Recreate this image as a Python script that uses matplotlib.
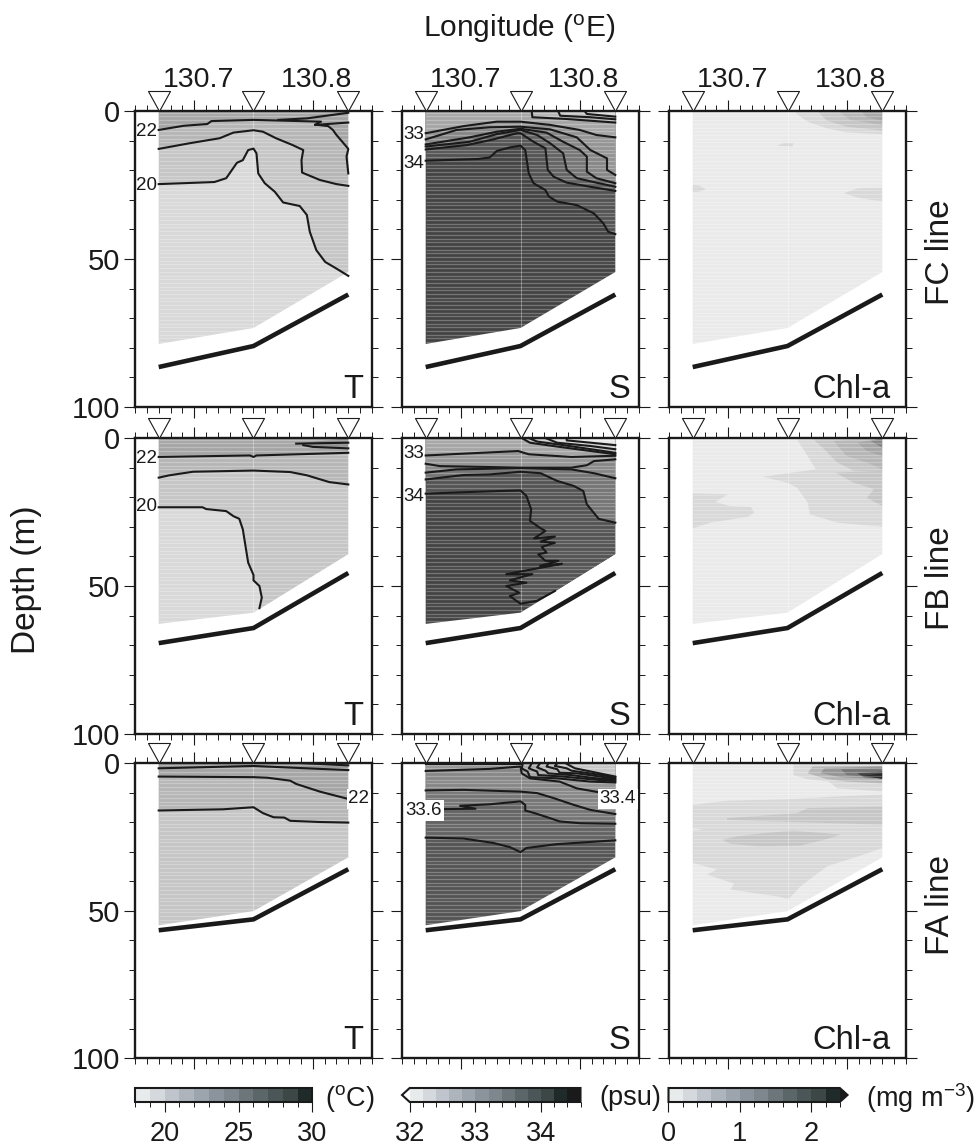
import numpy as np
import matplotlib
matplotlib.use("Agg")
import matplotlib.pyplot as plt
from matplotlib.colors import ListedColormap, BoundaryNorm
from matplotlib.colorbar import ColorbarBase
from matplotlib.patches import Polygon
from matplotlib.path import Path

plt.rcParams['font.family'] = ['Liberation Sans', 'DejaVu Sans']
plt.rcParams['mathtext.fontset'] = 'custom'
plt.rcParams['mathtext.rm'] = 'Liberation Sans'
plt.rcParams['mathtext.default'] = 'rm'

INK = '#1a1a1a'

# stations along every section
station_lon = [130.67, 130.75, 130.83]
lon_ticks = [130.7, 130.8]
lon_minor = [130.65 + 0.01 * i for i in range(21)]

# sea floor and deepest cast at each station
floor_fc = [86.5, 79.4, 62.0]
floor_fb = [69.3, 64.2, 45.6]
floor_fa = [56.7, 53.0, 36.0]
cast_fc = [78.7, 73.3, 54.4]
cast_fb = [62.8, 59.0, 39.2]
cast_fa = [55.0, 50.2, 32.0]

# isolines: (level, longitudes, depths); level None is drawn without shading
fc_t_lines = [
    (20, [130.67, 130.717, 130.727, 130.736, 130.741, 130.7455, 130.75, 130.7525, 130.754, 130.7595, 130.768, 130.775,
          130.789, 130.795, 130.7975, 130.803, 130.8105, 130.819, 130.83],
     [24.7, 24.0, 22.7, 17.5, 16.6, 13.2, 12.7, 14.3, 21.1, 24.4, 27.3, 30.9, 32.1, 35.1, 40.8, 47.0, 51.0, 53.0, 55.7]),
    (21, [130.67, 130.696, 130.7215, 130.733, 130.75, 130.758, 130.769, 130.783, 130.792, 130.7905, 130.791, 130.806,
          130.82, 130.83],
     [12.8, 10.9, 9.2, 7.3, 6.5, 7.0, 9.2, 11.5, 13.2, 16.6, 20.8, 23.3, 24.7, 25.3]),
    (22, [130.67, 130.691, 130.711, 130.7145, 130.75, 130.807, 130.802, 130.813, 130.817, 130.82, 130.826, 130.83,
          130.8285, 130.83],
     [6.4, 5.0, 4.4, 3.4, 3.0, 3.6, 4.6, 5.1, 6.4, 8.1, 10.9, 12.8, 15.4, 21.1]),
    (None, [130.802, 130.83], [4.7, 3.9]),
    (23, [130.771, 130.795, 130.83], [3.0, 2.5, 0.6]),
]
fb_t_lines = [
    (20, [130.67, 130.707, 130.71, 130.727, 130.733, 130.738, 130.741, 130.743, 130.7455, 130.75, 130.75, 130.755,
          130.757, 130.755],
     [23.4, 23.4, 24.0, 24.7, 26.4, 27.3, 30.9, 35.9, 42.1, 46.3, 48.1, 50.0, 53.9, 57.5]),
    (21, [130.67, 130.679, 130.699, 130.75, 130.781, 130.795, 130.814, 130.83],
     [13.4, 12.6, 11.4, 11.0, 11.5, 12.6, 14.9, 15.7]),
    (22, [130.67, 130.747, 130.75, 130.7525, 130.83], [6.4, 5.9, 6.4, 5.9, 5.0]),
    (23, [130.792, 130.8, 130.83], [2.4, 3.0, 3.5]),
    (24, [130.786, 130.83], [1.9, 1.6]),
]
fa_t_lines = [
    (21, [130.67, 130.724, 130.75, 130.758, 130.767, 130.776, 130.781, 130.806, 130.83],
     [16.1, 15.7, 15.0, 17.0, 18.4, 18.5, 19.6, 20.0, 20.2]),
    (22, [130.67, 130.75, 130.762, 130.781, 130.786, 130.806, 130.83],
     [4.6, 4.8, 5.0, 6.0, 7.1, 9.7, 12.2]),
    (23, [130.67, 130.75, 130.806, 130.83], [1.8, 1.0, 2.0, 2.4]),
    (24, [130.789, 130.83], [0.0, 0.8]),
]
fc_s_lines = [
    (34, [130.67, 130.7145, 130.724, 130.73, 130.741, 130.75, 130.754, 130.757, 130.761, 130.771, 130.774, 130.781,
          130.7975, 130.812, 130.82, 130.824, 130.83],
     [16.8, 16.2, 15.7, 13.5, 12.3, 11.7, 13.2, 21.1, 24.4, 26.7, 28.9, 30.6, 31.8, 34.6, 38.0, 40.8, 41.6]),
    (33.8, [130.67, 130.705, 130.727, 130.747, 130.75, 130.761, 130.771, 130.773, 130.778, 130.789, 130.809, 130.83],
     [13.0, 11.5, 9.6, 7.5, 7.5, 10.4, 12.6, 19.9, 22.2, 24.2, 25.6, 27.0]),
    (33.6, [130.67, 130.707, 130.73, 130.75, 130.764, 130.775, 130.786, 130.789, 130.7975, 130.814, 130.83],
     [12.0, 10.4, 7.8, 6.4, 8.1, 10.9, 14.3, 19.9, 22.7, 24.2, 25.6]),
    (33.4, [130.67, 130.707, 130.73, 130.75, 130.772, 130.786, 130.8, 130.806, 130.806, 130.814, 130.83],
     [11.3, 8.9, 7.0, 6.0, 7.3, 10.4, 13.2, 15.4, 20.5, 22.7, 24.4]),
    (33.2, [130.67, 130.696, 130.724, 130.75, 130.775, 130.7975, 130.809, 130.823, 130.823, 130.83],
     [9.6, 6.4, 5.5, 5.3, 6.2, 8.9, 13.2, 16.0, 19.9, 21.6]),
    (33.0, [130.67, 130.702, 130.73, 130.75, 130.775, 130.8, 130.814, 130.83],
     [7.5, 5.1, 3.6, 3.6, 4.7, 6.4, 8.1, 8.9]),
    (32.8, [130.7595, 130.76, 130.789, 130.83], [0.2, 2.1, 2.7, 3.9]),
    (32.6, [130.782, 130.7835, 130.809, 130.83], [0.2, 1.6, 2.1, 2.8]),
    (32.4, [130.8045, 130.806, 130.83], [0.2, 1.0, 1.9]),
]
fb_s_lines = [
    (34, [130.67, 130.71, 130.75, 130.755, 130.759, 130.758, 130.767, 130.771, 130.7615, 130.779, 130.767, 130.779,
          130.768, 130.772, 130.765, 130.771, 130.782, 130.7665, 130.785, 130.738, 130.76, 130.741, 130.755, 130.738,
          130.749, 130.741, 130.75, 130.764, 130.779],
     [18.8, 18.2, 17.7, 19.6, 24.1, 28.0, 30.5, 31.4, 33.9, 33.3, 35.0, 35.4, 36.8, 38.7, 39.3, 41.5, 41.5, 43.2,
      42.5, 46.0, 46.0, 48.1, 48.9, 50.0, 52.3, 53.4, 56.0, 55.0, 51.7]),
    (33.6, [130.67, 130.702, 130.724, 130.75, 130.767, 130.781, 130.795, 130.803, 130.806, 130.816, 130.83],
     [14.0, 12.5, 12.3, 11.4, 11.9, 14.5, 16.2, 17.9, 22.4, 27.3, 28.6]),
    (33.4, [130.67, 130.696, 130.75, 130.793, 130.812, 130.83], [11.7, 10.6, 10.2, 10.6, 11.9, 13.6]),
    (33.2, [130.67, 130.682, 130.75, 130.793, 130.806, 130.812, 130.83], [8.7, 9.5, 10.0, 10.0, 9.2, 7.8, 7.2]),
    (33.0, [130.67, 130.748, 130.757, 130.793, 130.83], [5.9, 4.4, 5.5, 6.4, 6.0]),
    (32.8, [130.751, 130.758, 130.781, 130.83], [0.0, 1.6, 2.9, 5.5]),
    (32.6, [130.757, 130.764, 130.786, 130.83], [0.0, 1.2, 2.4, 5.0]),
    (32.4, [130.771, 130.781, 130.809, 130.83], [0.0, 1.6, 2.7, 3.8]),
    (32.2, [130.789, 130.789, 130.83], [0.0, 0.8, 2.4]),
]
fa_s_lines = [
    (33.8, [130.67, 130.702, 130.727, 130.741, 130.75, 130.755, 130.781, 130.83],
     [25.3, 25.6, 27.1, 28.5, 30.2, 28.8, 27.5, 26.2]),
    (33.6, [130.67, 130.712, 130.699, 130.724, 130.75, 130.754, 130.754, 130.762, 130.775, 130.783, 130.8, 130.83],
     [15.7, 15.5, 14.5, 14.0, 13.0, 14.2, 16.1, 17.0, 18.7, 19.8, 20.4, 20.6]),
    (33.4, [130.67, 130.702, 130.75, 130.764, 130.778, 130.795, 130.809, 130.83],
     [9.3, 9.1, 9.7, 10.2, 11.9, 14.2, 15.9, 17.3]),
    (33.2, [130.67, 130.724, 130.75, 130.751, 130.758, 130.783, 130.7975, 130.816, 130.83],
     [2.7, 2.0, 1.2, 3.5, 5.2, 6.3, 8.6, 9.9, 10.2]),
    (None, [130.67, 130.75], [0.5, 0.5]),
    (33.0, [130.752, 130.751, 130.756, 130.758, 130.781, 130.809, 130.83], [0.1, 1.8, 2.9, 4.8, 5.2, 6.3, 6.6]),
    (32.9, [130.7595, 130.757, 130.764, 130.765, 130.786, 130.809, 130.83], [0.1, 1.8, 2.9, 4.1, 4.6, 5.5, 6.2]),
    (32.8, [130.7665, 130.764, 130.771, 130.7735, 130.793, 130.812, 130.83], [0.1, 1.5, 2.6, 3.5, 4.1, 5.1, 5.7]),
    (32.7, [130.7735, 130.772, 130.781, 130.783, 130.7975, 130.83], [0.1, 1.2, 2.1, 3.3, 3.5, 5.3]),
    (32.6, [130.781, 130.779, 130.789, 130.793, 130.83], [0.1, 1.0, 1.8, 2.6, 4.8]),
    (32.5, [130.789, 130.796, 130.83], [0.3, 1.8, 4.6]),
]

# chlorophyll patches: (value, longitudes, depths)
fc_c_patches = [
    (0.3, [130.757, 130.757, 130.767, 130.7835, 130.8, 130.83, 130.83], [0.0, 0.8, 3.6, 5.9, 7.2, 7.9, 0.0]),
    (0.5, [130.775, 130.7835, 130.8, 130.83, 130.83], [0.0, 3.3, 5.3, 6.6, 0.0]),
    (0.7, [130.793, 130.803, 130.83, 130.83], [0.0, 3.0, 4.7, 0.0]),
    (0.9, [130.812, 130.817, 130.83, 130.83], [0.0, 2.1, 3.3, 0.0]),
    (0.3, [130.741, 130.747, 130.755, 130.754], [11.7, 10.9, 10.9, 12.0]),
    (0.3, [130.67, 130.676, 130.681, 130.675, 130.67], [25.0, 25.3, 26.5, 27.3, 27.3]),
    (0.3, [130.7975, 130.809, 130.83, 130.83, 130.82, 130.809], [27.8, 26.1, 25.9, 30.4, 30.0, 29.2]),
]
fb_c_patches = [
    (0.3, [130.758, 130.767, 130.774, 130.729, 130.75, 130.758, 130.767, 130.769, 130.792, 130.83, 130.83],
     [0.5, 6.1, 10.6, 13.1, 15.1, 16.8, 21.8, 25.8, 28.6, 30.0, 0.0]),
    (0.3, [130.67, 130.7, 130.689, 130.702, 130.719, 130.722, 130.717, 130.685, 130.67],
     [18.7, 19.0, 21.6, 23.0, 23.3, 25.2, 26.6, 28.6, 30.5]),
    (0.5, [130.772, 130.781, 130.792, 130.806, 130.83, 130.83], [0.5, 3.8, 8.3, 11.1, 11.1, 0.0]),
    (0.5, [130.7905, 130.806, 130.823, 130.817, 130.83, 130.83], [11.7, 15.1, 17.3, 20.2, 23.0, 11.1]),
    (0.7, [130.789, 130.8, 130.817, 130.83, 130.83], [1.0, 6.1, 8.3, 10.6, 0.0]),
    (0.9, [130.809, 130.817, 130.83, 130.83], [1.6, 4.4, 6.1, 0.0]),
    (1.3, [130.82, 130.83, 130.83], [1.0, 3.3, 0.0]),
]
fa_c_patches = [
    (0.3, [130.67, 130.699, 130.75, 130.789, 130.83, 130.83, 130.814, 130.7835, 130.761, 130.751, 130.741, 130.702,
           130.705, 130.682, 130.6905, 130.67, 130.67, 130.679, 130.67],
     [14.2, 12.8, 12.3, 11.4, 10.7, 28.8, 31.1, 35.0, 41.8, 46.1, 45.2, 42.9, 40.9, 37.8, 36.1, 33.9, 22.9, 22.6, 22.1]),
    (0.5, [130.699, 130.758, 130.767, 130.83, 130.83, 130.789, 130.741, 130.699],
     [18.7, 17.0, 15.3, 14.8, 20.9, 20.4, 19.8, 19.3]),
    (0.5, [130.695, 130.707, 130.73, 130.755, 130.795, 130.781, 130.761, 130.727, 130.702],
     [26.0, 24.9, 23.8, 22.9, 24.3, 26.0, 28.0, 28.3, 27.4]),
    (0.3, [130.755, 130.755, 130.767, 130.785, 130.792, 130.812, 130.83, 130.83, 130.755],
     [0.7, 4.1, 5.5, 6.3, 8.6, 9.1, 9.7, 0.0, 0.0]),
    (0.7, [130.771, 130.767, 130.7835, 130.8, 130.83, 130.83], [1.2, 3.5, 5.5, 6.3, 6.9, 1.0]),
    (1.1, [130.781, 130.778, 130.795, 130.83, 130.83], [1.8, 3.5, 4.8, 5.5, 1.2]),
    (1.5, [130.795, 130.8, 130.817, 130.83, 130.83], [2.1, 4.1, 4.6, 4.8, 1.8]),
    (2.1, [130.809, 130.8145, 130.83, 130.83], [3.5, 4.8, 5.2, 2.9]),
    (2.3, [130.8145, 130.83, 130.83], [4.3, 5.4, 3.5]),
]

# isoline labels: (text, longitude, depth, white box)
fc_t_labels = [("22", 130.66, 6.8, False), ("20", 130.66, 25.0, False)]
fb_t_labels = [("22", 130.66, 6.9, False), ("20", 130.66, 23.2, False)]
fa_t_labels = [("22", 130.839, 12.2, True)]
fc_s_labels = [("33", 130.66, 7.8, False), ("34", 130.66, 17.9, False)]
fb_s_labels = [("33", 130.66, 5.4, False), ("34", 130.66, 19.8, False)]
fa_s_labels = [("33.6", 130.6686, 16.1, True), ("33.4", 130.832, 12.2, True)]

# colour scales
scale_colors = ['#e8ebec', '#d5d8dc', '#c0c4cc', '#aeb4bc', '#9ca4ae', '#8b949c', '#7e878d',
                '#6d777b', '#5b6668', '#4b5658', '#3c4746', '#1f2b28', '#1a1a1a']
t_bounds = list(range(18, 31))
s_bounds = [32 + 0.2 * i for i in range(14)]
c_bounds = [0.2 * i for i in range(13)]
t_ticks = [20, 25, 30]
s_ticks = [32, 33, 34]
c_ticks = [0, 1, 2]

row_names = ["FC line", "FB line", "FA line"]
tag_names = ["T", "S", "Chl-a"]
unit_names = ["($^{o}$C)", "(psu)", "(mg m$^{-3}$)"]

W, H = 978, 1148
col_left = [135, 402, 669]
row_span = [(111, 407), (438, 734), (763, 1058)]
col_width = 237


def px_axes(left, top, right, bottom):
    return [left / W, 1 - bottom / H, (right - left) / W, (bottom - top) / H]


def make_scale(bounds, n):
    cmap = ListedColormap(scale_colors[:n])
    cmap.set_under('white')
    cmap.set_over(INK)
    norm = BoundaryNorm(bounds, n)
    return cmap, norm


def gray_of(cmap, norm, value):
    r, g, b, _ = cmap(norm(value))
    v = (r + g + b) / 3
    return (v, v, v)


scales = [make_scale(t_bounds, 12), make_scale(s_bounds, 13), make_scale(c_bounds, 12)]
tip = Path([(-0.55, 1), (0.55, 1), (0, 0), (-0.55, 1)], closed=True)

fig = plt.figure(figsize=(W / 100, H / 100), dpi=100)


def setup_axes(ax, show_y, show_lon):
    ax.set_xlim(130.65, 130.85)
    ax.set_ylim(100, 0)
    ax.set_xticks(lon_ticks)
    ax.set_xticks(lon_minor, minor=True)
    ax.set_yticks([0, 50, 100])
    ax.set_yticks(range(0, 101, 10), minor=True)
    ax.tick_params(which='major', length=8.0, width=0.8, color=INK, top=True, right=True,
                   labelbottom=False, labelleft=show_y, labelsize=21, labelcolor=INK, pad=3)
    ax.tick_params(which='minor', length=4.2, width=0.7, color=INK, top=True, right=True)
    ax.tick_params(axis='x', labelbottom=False)
    for sp in ax.spines.values():
        sp.set_linewidth(1.7)
        sp.set_color(INK)
    if show_lon:
        for lon, name in zip(lon_ticks, ["130.7", "130.8"]):
            ax.annotate(name, (lon, 0), xytext=(4, 24), textcoords='offset pixels', ha='center', va='baseline',
                        fontsize=20.5, color=INK, annotation_clip=False)


def draw_section(ax, cast, floor, base, lines, patches, scale, shift, labels):
    cmap, norm = scale
    outline = [(station_lon[0], 0), (station_lon[2], 0)] + [(x, d) for x, d in zip(station_lon[::-1], cast[::-1])]
    field = Polygon(outline, closed=True, facecolor=gray_of(cmap, norm, base), edgecolor='none',
                    transform=ax.transData, zorder=1)
    ax.add_patch(field)

    left, right = station_lon[0], station_lon[2]
    for level, lons, deps in lines:
        if level is None:
            continue
        xs, ys = list(lons), list(deps)
        if xs[-1] >= right:
            xs += [right]
            ys += [0]
        else:
            xs += [xs[-1], right, right]
            ys += [100, 100, 0]
        if xs[0] <= left:
            xs += [left]
            ys += [0]
        shade = ax.fill(xs, ys, color=gray_of(cmap, norm, level + shift), lw=0, zorder=2)[0]
        shade.set_clip_path(field)

    for value, lons, deps in patches:
        shade = ax.fill(lons, deps, color=gray_of(cmap, norm, value), lw=0, zorder=2)[0]
        shade.set_clip_path(field)

    # raster stripes left by the gridding
    stripes = ax.hlines(np.arange(0.6, 100, 1.25), left, right, color='white', alpha=0.27, lw=0.95, zorder=3)
    stripes.set_clip_path(field)
    seam = ax.vlines(station_lon[1], 0, cast[1], color='white', alpha=0.35, lw=0.7, zorder=3)
    seam.set_clip_path(field)

    for level, lons, deps in lines:
        ax.plot(lons, deps, color=INK, lw=1.5, zorder=4, solid_joinstyle='round', clip_on=False)
    ax.plot(station_lon, floor, color=INK, lw=3.3, zorder=4, solid_capstyle='butt', solid_joinstyle='miter')

    for text, lon, dep, boxed in labels:
        box = dict(facecolor='white', edgecolor='none', pad=1.2) if boxed else None
        ax.text(lon, dep, text, fontsize=13.5, ha='center', va='center', color=INK, bbox=box, zorder=6, clip_on=False)

    ax.plot(station_lon, [0, 0, 0], linestyle='none', marker=tip, markersize=28.8, markerfacecolor='white',
            markeredgecolor=INK, markeredgewidth=0.8, clip_on=False, zorder=7)


floors = [floor_fc, floor_fb, floor_fa]
casts = [cast_fc, cast_fb, cast_fa]
sections = [
    [(19.5, fc_t_lines, [], 0.5, fc_t_labels), (34.1, fc_s_lines, [], -0.1, fc_s_labels), (0.1, [], fc_c_patches, 0, [])],
    [(19.5, fb_t_lines, [], 0.5, fb_t_labels), (34.1, fb_s_lines, [], -0.1, fb_s_labels), (0.1, [], fb_c_patches, 0, [])],
    [(20.5, fa_t_lines, [], 0.5, fa_t_labels), (33.9, fa_s_lines, [], -0.1, fa_s_labels), (0.1, [], fa_c_patches, 0, [])],
]

for r, (top, bottom) in enumerate(row_span):
    for c, left in enumerate(col_left):
        ax = fig.add_axes(px_axes(left, top, left + col_width, bottom))
        setup_axes(ax, c == 0, r == 0)
        base, lines, patches, shift, labels = sections[r][c]
        draw_section(ax, casts[r], floors[r], base, lines, patches, scales[c], shift, labels)
        ax.text(130.837 if c == 2 else 130.843, 97, tag_names[c], fontsize=23.5, ha='right', va='baseline', color=INK)
    fig.text(941 / W, 1 - [252, 578, 905][r] / H, row_names[r], rotation=90, fontsize=24, ha='center', va='center',
             color=INK)

fig.text(519 / W, 1 - 29 / H, "Longitude ($^{o}$E)", fontsize=21.5, ha='center', va='center', color=INK)
fig.text(27 / W, 1 - 580 / H, "Depth (m)", rotation=90, fontsize=24, ha='center', va='center', color=INK)

# colour bars along the bottom
bar_span = [(135, 312.5), (402, 580.5), (668.5, 847.5)]
bar_bounds = [t_bounds, s_bounds, c_bounds]
bar_ticks = [t_ticks, s_ticks, c_ticks]
bar_extend = ['neither', 'min', 'max']
unit_x = [350, 630, 920]
for i in range(3):
    x0, x1 = bar_span[i]
    cax = fig.add_axes(px_axes(x0, 1088, x1, 1102))
    cmap, norm = scales[i]
    cb = ColorbarBase(cax, cmap=cmap, norm=norm, orientation='horizontal', extend=bar_extend[i], extendfrac=0.045,
                      spacing='proportional', ticks=bar_ticks[i])
    cb.ax.xaxis.set_ticks(bar_bounds[i], minor=True)
    cb.ax.tick_params(which='major', length=7.2, width=0.8, color=INK, labelsize=19.5, labelcolor=INK, pad=6.5)
    cb.ax.tick_params(which='minor', length=3.6, width=0.7, color=INK)
    cb.outline.set_linewidth(1.5)
    cb.outline.set_edgecolor(INK)
    fig.text(unit_x[i] / W, 1 - 1098 / H, unit_names[i], fontsize=19.5, ha='center', va='center', color=INK)

fig.savefig('out.png', dpi=100)
